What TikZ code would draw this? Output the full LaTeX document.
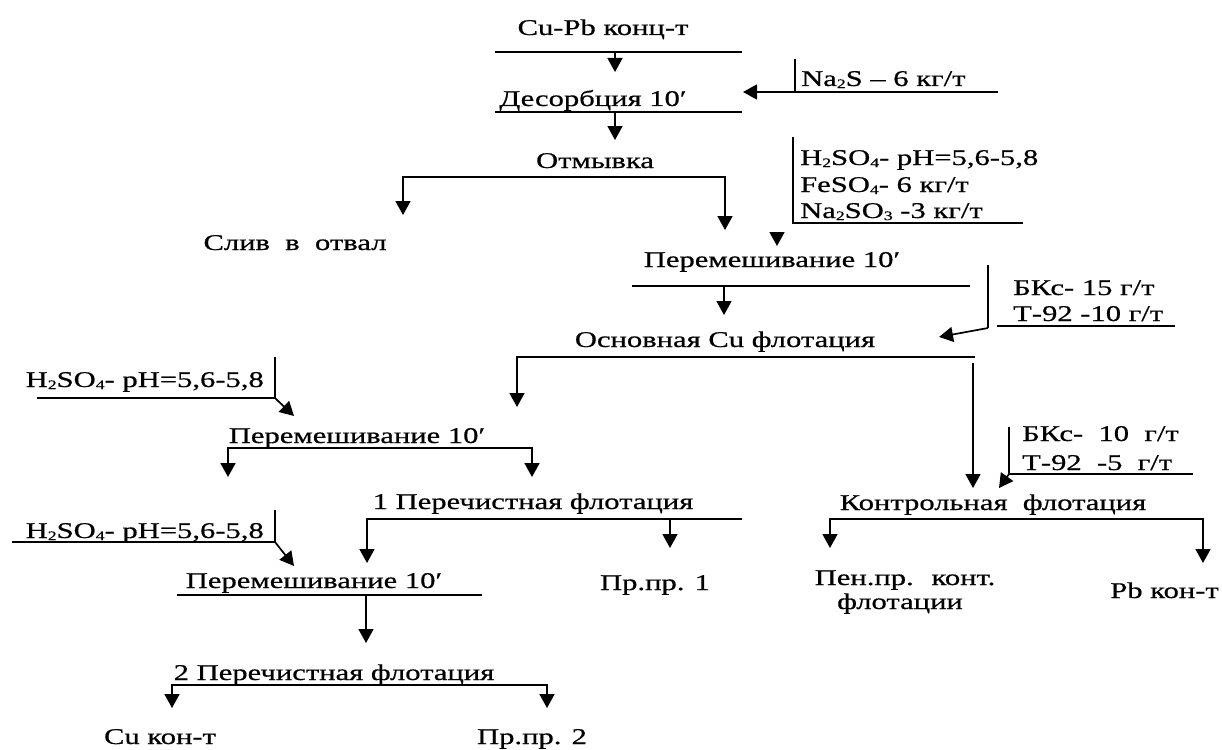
\documentclass[tikz,border=0pt]{standalone}
\usepackage{fontspec}
\setmainfont{Liberation Serif}[FakeStretch=1.36,FakeBold=0.6]
\usetikzlibrary{arrows.meta}
\newcommand{\subs}[1]{\raisebox{-0.2ex}{\fontsize{13}{13}\selectfont #1}}
\begin{document}
\begin{tikzpicture}[x=1pt,y=-1pt,
  lbl/.style={inner sep=0pt, anchor=base, font=\fontsize{22.5}{26}\selectfont},
  lblw/.style={lbl, anchor=base west},
  lble/.style={lbl, anchor=base east},
  ln/.style={line width=1.7pt},
  arr/.style={ln, -{Triangle[width=15pt,length=14pt]}}]
\useasboundingbox (0,0) rectangle (1222,749);
% ---------- texts ----------
\node[lbl] (cupb) at (603,35) {Cu-Pb конц-т};
\node[lblw] (na2s) at (801,86) {Na\subs{2}S – 6 кг/т};
\node[lbl] (des) at (593,106) {Десорбция 10′};
\node[lbl] (otm) at (595,168) {Отмывка};
\node[lbl] (sliv) at (295,250) {Слив~ в~ отвал};
\node[lblw] (r1a) at (800,165) {H\subs{2}SO\subs{4}- pH=5,6-5,8};
\node[lblw] (r1b) at (800,192) {FeSO\subs{4}- 6 кг/т};
\node[lblw] (r1c) at (800,218) {Na\subs{2}SO\subs{3} -3 кг/т};
\node[lbl] (mix1) at (772,267) {Перемешивание 10′};
\node[lblw] (r2a) at (1013,295) {БКс- 15 г/т};
\node[lblw] (r2b) at (1013,321) {Т-92 -10 г/т};
\node[lbl] (osn) at (725,347) {Основная Cu флотация};
\node[lble] (r3) at (264,387) {H\subs{2}SO\subs{4}- pH=5,6-5,8};
\node[lbl] (mix2) at (357,443) {Перемешивание 10′};
\node[lbl] (per1) at (533,509) {1 Перечистная флотация};
\node[lble] (r4) at (264,538) {H\subs{2}SO\subs{4}- pH=5,6-5,8};
\node[lbl] (mix3) at (314,588) {Перемешивание 10′};
\node[lbl] (pp1) at (655,590) {Пр.пр. 1};
\node[lbl] (kontr) at (993,510) {Контрольная~ флотация};
\node[lblw] (r5a) at (1022,441) {БКс-~ 10~ г/т};
\node[lblw] (r5b) at (1022,470) {Т-92~ -5~ г/т};
\node[lbl] (pen) at (905,585) {Пен.пр.~ конт.};
\node[lbl] (pen2) at (900,609) {флотации};
\node[lble] (pb) at (1219,598) {Pb кон-т};
\node[lbl] (per2) at (334,680) {2 Перечистная флотация};
\node[lbl] (cuk) at (160,744) {Cu кон-т};
\node[lbl] (pp2) at (532,744) {Пр.пр. 2};
% ---------- coordinates ----------
\coordinate (L1a) at (495,52);  \coordinate (L1b) at (742,52);
\coordinate (A1s) at (615,52);  \coordinate (A1e) at (615,72);
\coordinate (N1) at (795,59);   \coordinate (N2) at (795,92);
\coordinate (N3) at (998,92);   \coordinate (N4) at (743,92);
\coordinate (L2a) at (495,112); \coordinate (L2b) at (742,112);
\coordinate (A2s) at (615,112); \coordinate (A2e) at (615,140);
\coordinate (O0) at (560,177);  \coordinate (O1) at (403,215); \coordinate (O2) at (725,230);
\coordinate (B1a) at (793,137); \coordinate (B1b) at (1023,223);
\coordinate (B1s) at (777,232); \coordinate (B1e) at (777,246);
\coordinate (L4a) at (632,286); \coordinate (L4b) at (970,286);
\coordinate (A4s) at (724,286); \coordinate (A4e) at (724,315);
\coordinate (B2a) at (988,265); \coordinate (B2b) at (988,328); \coordinate (B2e) at (939,337);
\coordinate (B2l) at (997,326); \coordinate (B2r) at (1175,326);
\coordinate (L5b) at (975,357); \coordinate (L5e) at (517,407);
\coordinate (V5s) at (973,363); \coordinate (V5e) at (973,488);
\coordinate (B3l) at (37,398);  \coordinate (B3t) at (275,357);
\coordinate (B3c) at (275,398); \coordinate (B3e) at (294,416);
\coordinate (L6m) at (380,448); \coordinate (L6l) at (228,477); \coordinate (L6r) at (532,477);
\coordinate (L7b) at (742,519); \coordinate (L7e) at (367,563);
\coordinate (A7s) at (670,519); \coordinate (A7e) at (670,548);
\coordinate (B4l) at (12,542);  \coordinate (B4t) at (275,510);
\coordinate (B4c) at (275,542); \coordinate (B4e) at (294,566);
\coordinate (L8a) at (177,595); \coordinate (L8b) at (482,595);
\coordinate (A8s) at (366,595); \coordinate (A8e) at (366,643);
\coordinate (L9m) at (360,685); \coordinate (L9l) at (172,708); \coordinate (L9r) at (547,708);
\coordinate (Km) at (1000,519); \coordinate (Kl) at (830,548); \coordinate (Kr) at (1203,563);
\coordinate (B5t) at (1009,427); \coordinate (B5c) at (1009,474); \coordinate (B5r) at (1193,474);
\coordinate (B5e) at (999,488);
% ---------- connectors ----------
\draw[ln] (L1a) -- (L1b);
\draw[arr] (A1s) -- (A1e);
\draw[ln] (N1) -- (N2);
\draw[arr] (N3) -- (N4);
\draw[ln] (L2a) -- (L2b);
\draw[arr] (A2s) -- (A2e);
\draw[arr] (O0) -| (O1);
\draw[arr] (O0) -| (O2);
\draw[ln] (B1a) |- (B1b);
\draw[arr] (B1s) -- (B1e);
\draw[ln] (L4a) -- (L4b);
\draw[arr] (A4s) -- (A4e);
\draw[ln] (B2a) -- (B2b);
\draw[arr] (B2b) -- (B2e);
\draw[ln] (B2l) -- (B2r);
\draw[arr] (L5b) -| (L5e);
\draw[arr] (V5s) -- (V5e);
\draw[ln] (B3l) -| (B3t);
\draw[arr] (B3c) -- (B3e);
\draw[arr] (L6m) -| (L6l);
\draw[arr] (L6m) -| (L6r);
\draw[arr] (L7b) -| (L7e);
\draw[arr] (A7s) -- (A7e);
\draw[ln] (B4l) -| (B4t);
\draw[arr] (B4c) -- (B4e);
\draw[ln] (L8a) -- (L8b);
\draw[arr] (A8s) -- (A8e);
\draw[arr] (L9m) -| (L9l);
\draw[arr] (L9m) -| (L9r);
\draw[arr] (Km) -| (Kl);
\draw[arr] (Km) -| (Kr);
\draw[ln] (B5t) -- (B5c) -- (B5r);
\draw[arr] (B5c) -- (B5e);
\end{tikzpicture}
\end{document}
